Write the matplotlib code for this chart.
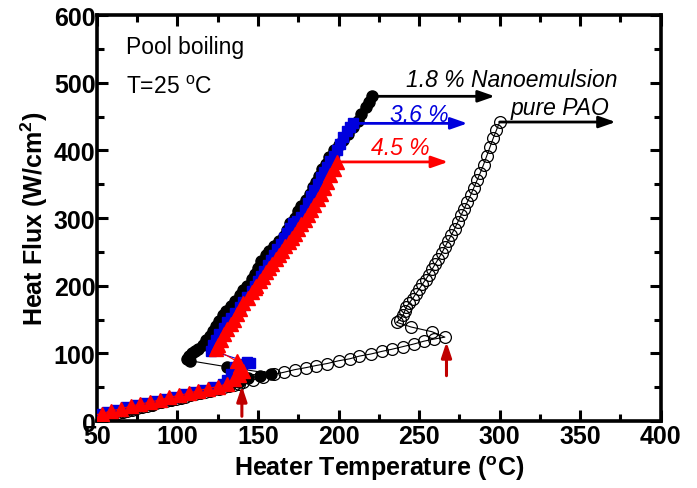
import matplotlib
matplotlib.use('agg')
import matplotlib.pyplot as plt
from matplotlib.ticker import MultipleLocator

# pure PAO (open circles)
pao_t = [48, 51, 54, 57, 60, 63, 66, 69, 72, 75, 78, 81, 84, 87, 90, 93, 96, 99,
         102, 105, 108, 111, 114, 117, 120, 123, 126, 129, 132, 135, 138, 141,
         147, 153, 160, 166, 173, 180, 186, 193, 200, 207, 213, 220, 227, 233,
         240, 247, 253, 259, 266,
         258, 245, 236,
         238, 240, 241, 242, 244, 246, 248, 250, 252, 254, 256, 258, 260, 262,
         264, 266, 268, 270, 272, 274, 276, 278, 280, 282, 284, 286, 288, 290,
         292, 294, 296, 298, 300]
pao_q = [3, 5, 7, 8, 10, 12, 14, 15, 17, 19, 21, 22, 24, 26, 28, 29, 31, 33,
         34, 36, 38, 40, 41, 43, 45, 47, 48, 50, 52, 53, 55, 57,
         61, 65, 69, 72, 76, 79, 82, 85, 89, 92, 96, 99, 103, 106,
         110, 114, 118, 121, 124,
         132, 139, 146,
         150, 156, 162, 168, 175, 181, 188, 195, 202, 209, 216, 224, 232, 240,
         248, 257, 266, 275, 284, 294, 304, 314, 324, 334, 345, 356, 367, 379,
         392, 405, 418, 430, 442]

# 1.8 % nanoemulsion (black filled circles)
n18_t = [48, 54, 60, 66, 72, 78, 84, 90, 96, 102, 108, 114, 120, 126, 132,
         138, 144, 151, 158,
         131, 108,
         106, 107, 109, 111, 113, 116, 118, 120, 122, 124, 126, 128, 130, 133,
         136, 139, 141, 143, 146, 148, 150, 152, 155, 157, 160, 163, 166, 168,
         170, 173, 175, 177, 180, 182, 184, 186, 188, 190, 192, 194, 197, 200,
         203, 206, 209, 212, 214, 217, 219, 221]
n18_q = [5, 8, 11, 15, 18, 22, 24, 28, 31, 35, 38, 42, 46, 50, 54,
         58, 63, 67, 70,
         80, 89,
         92, 96, 100, 103, 106, 112, 120, 126, 133, 140, 148, 156, 163, 170,
         178, 186, 193, 200, 210, 218, 226, 236, 246, 252, 258, 266, 274, 283,
         292, 300, 310, 318, 327, 336, 346, 354, 362, 372, 380, 390, 400, 408,
         416, 424, 434, 444, 454, 464, 472, 480]

# 3.6 % (blue squares)
n36_t = [50, 56, 62, 68, 74, 80, 86, 92, 98, 104, 110, 116, 122, 128,
         131, 133, 136, 140, 143, 145,
         121,
         122, 124, 126, 129, 131, 133, 136, 139, 141, 143, 146, 148, 150, 152,
         154, 156, 158, 160, 162, 164, 166, 168, 170, 172, 174, 177, 179, 181,
         183, 185, 187, 189, 191, 193, 195, 197, 199, 201, 203, 205, 207, 209]
n36_q = [10, 13, 17, 20, 24, 27, 30, 33, 36, 40, 43, 46, 50, 54,
         60, 70, 80, 85, 87, 86,
         104,
         112, 120, 128, 138, 146, 152, 160, 168, 176, 184, 192, 200, 207, 214,
         222, 230, 238, 246, 254, 262, 270, 278, 285, 292, 296, 302, 312, 322,
         332, 341, 350, 360, 368, 376, 384, 392, 400, 410, 420, 428, 434, 440]

# 4.5 % (red triangles)
n45_t = [47, 53, 59, 65, 71, 77, 83, 89, 95, 101, 107, 113, 119, 125, 131,
         135, 138, 141,
         139, 137,
         124, 125, 127, 129, 131, 133, 135, 137, 139, 141, 144, 146, 148, 149,
         151, 153, 155, 157, 159, 161, 163, 165, 167, 169, 171, 173, 175, 177,
         179, 181, 183, 185, 187, 189, 191, 193, 195, 197, 199]
n45_q = [8, 11, 15, 18, 22, 25, 28, 31, 35, 38, 41, 45, 48, 51, 55,
         62, 68, 74,
         82, 88,
         106, 112, 120, 128, 136, 144, 150, 158, 166, 174, 182, 190, 197, 200,
         207, 213, 220, 226, 232, 239, 245, 252, 258, 264, 271, 277, 284, 291,
         297, 304, 312, 320, 328, 336, 345, 354, 363, 372, 383]

# arrows to the right of each CHF point, end temperatures
arrow_end = [297, 280, 268, 372]
# red arrows marking onset, (temperature, tail, head)
onset_t = [140, 267]
onset_tail = [7, 67]
onset_head = [52, 117]

plt.rcParams['font.family'] = ['Liberation Sans', 'DejaVu Sans']
plt.rcParams['mathtext.fontset'] = 'custom'
plt.rcParams['mathtext.rm'] = 'Liberation Sans'
plt.rcParams['mathtext.it'] = 'Liberation Sans:italic'
plt.rcParams['mathtext.bf'] = 'Liberation Sans:bold'

fig = plt.figure(figsize=(6.97, 4.89), dpi=100)
ax = fig.add_axes([0.139, 0.137, 0.809, 0.830])

ax.plot(pao_t, pao_q, 'o-', color='black', mfc='none', mec='black', ms=8.5,
        mew=0.9, lw=0.8, zorder=2)
ax.plot(n18_t, n18_q, 'o-', color='black', ms=8, lw=0.8, zorder=3)
ax.plot(n36_t, n36_q, 's-', color='#0000dd', ms=7.5, lw=0.8, zorder=4)
ax.plot(n45_t, n45_q, '^-', color='#ff0000', ms=9.5, lw=0.8, zorder=5)

series = [(n18_t, n18_q, 'black'), (n36_t, n36_q, '#0000dd'),
          (n45_t, n45_q, '#ff0000'), (pao_t, pao_q, 'black')]
for (t, q, c), xe in zip(series, arrow_end):
    ax.annotate('', xy=(xe, q[-1]), xytext=(t[-1], q[-1]),
                arrowprops=dict(arrowstyle='-|>,head_length=1.0,head_width=0.35',
                                color=c, lw=2, shrinkA=0, shrinkB=0),
                zorder=6)

for t, a, b in zip(onset_t, onset_tail, onset_head):
    ax.annotate('', xy=(t, b), xytext=(t, a),
                arrowprops=dict(arrowstyle='-|>,head_length=0.9,head_width=0.3',
                                color='#c00000', lw=2.2, shrinkA=0, shrinkB=0),
                zorder=7)

ax.text(242, 505, '1.8 % Nanoemulsion', fontsize=16.5, style='italic',
        va='center', ha='left')
ax.text(307, 464, 'pure PAO', fontsize=16.5, style='italic', va='center',
        ha='left')
ax.text(232, 453, '3.6 %', fontsize=16.5, style='italic', color='#0000dd',
        va='center', ha='left')
ax.text(220, 405, '4.5 %', fontsize=16.5, style='italic', color='#ff0000',
        va='center', ha='left')
ax.text(68, 553, 'Pool boiling', fontsize=16.5, va='center', ha='left')
ax.text(68, 494, r'T=25 $^{\rm o}$C', fontsize=16.5, va='center', ha='left')

ax.set_xlim(50, 400)
ax.set_ylim(0, 600)
ax.xaxis.set_major_locator(MultipleLocator(50))
ax.xaxis.set_minor_locator(MultipleLocator(25))
ax.yaxis.set_major_locator(MultipleLocator(100))
ax.yaxis.set_minor_locator(MultipleLocator(50))
ax.tick_params(which='both', direction='in', top=True, right=True,
               width=2.2, labelsize=18)
ax.tick_params(which='major', length=8)
ax.tick_params(which='minor', length=5)
ax.tick_params(axis='x', pad=2)
ax.tick_params(axis='y', pad=1)
for lab in ax.get_xticklabels() + ax.get_yticklabels():
    lab.set_fontweight('bold')
for s in ax.spines.values():
    s.set_linewidth(2.6)

ax.set_xlabel(r'Heater Temperature ($^{\mathbf{o}}$C)', fontsize=18,
              fontweight='bold', labelpad=4)
ax.set_ylabel(r'Heat Flux (W/cm$^{\mathbf{2}}$)', fontsize=18,
              fontweight='bold', labelpad=3)

fig.savefig('out.png', dpi=100)
